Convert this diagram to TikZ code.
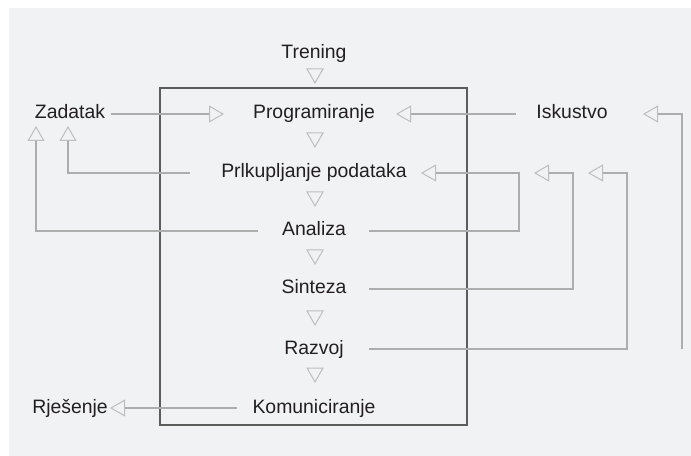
\documentclass[tikz,border=0pt]{standalone}
\usepackage{fontspec}
\setmainfont{Liberation Sans}
\usetikzlibrary{arrows.meta}
\definecolor{bgc}{HTML}{F1F2F4}
\definecolor{txt}{HTML}{231F20}
\definecolor{framec}{HTML}{5C5C5C}
\definecolor{linec}{HTML}{ADADAD}
\definecolor{tipc}{HTML}{BDBDBD}
\tikzset{
  lbl/.style={inner sep=0pt, text height=14bp, text depth=4bp, text=txt,
    font=\fontsize{19.4bp}{23bp}\selectfont},
  conn/.style={draw=linec, line width=1.6bp,
    -{Triangle[open, length=15bp, width=17bp, line width=1bp, color=tipc]}},
  plain/.style={draw=linec, line width=1.6bp},
  downtri/.pic={\draw[tipc, line width=1bp, line join=miter]
      (-8,-7) -- (8,-7) -- (0,7) -- cycle;}
}
\begin{document}
\begin{tikzpicture}[x=1bp, y=-1bp]
\useasboundingbox (0,0) rectangle (691,456);
\fill[bgc] (9,8) rectangle (691,456);
% frame
\draw[framec, line width=1.2bp] (160,88) rectangle (467,425);
% labels
\node[lbl] (trn) at (314,54) {Trening};
\node[lbl] (prog) at (314,114) {Programiranje};
\node[lbl] (zad) at (70,114) {Zadatak};
\node[lbl] (isk) at (572,114) {Iskustvo};
\node[lbl] (prik) at (314,173) {Prlkupljanje podataka};
\node[lbl] (ana) at (314,231) {Analiza};
\node[lbl] (sin) at (314,289) {Sinteza};
\node[lbl] (raz) at (314,349) {Razvoj};
\node[lbl] (kom) at (314,408) {Komuniciranje};
\node[lbl] (rje) at (70,408) {Rješenje};
% down triangles
\foreach \yy in {76,140,199,257,318,375} \pic at (315,\yy) {downtri};
% connectors
\draw[conn] ([xshift=41bp]zad.center) -- ([xshift=-90bp]prog.center);
\draw[conn] ([xshift=-56bp]isk.center) -- ([xshift=82bp]prog.center);
\draw[conn] ([xshift=110bp,yshift=-235bp]isk.center) |- ([xshift=71bp]isk.center);
\draw[conn] ([xshift=-124bp]prik.center) -| ([xshift=-2bp,yshift=-12bp]zad.center);
\draw[conn] ([xshift=-56bp]ana.center) -| ([xshift=-34bp,yshift=-12bp]zad.center);
\draw[conn] ([xshift=55bp]ana.center) -| ([xshift=205bp]prik.center) -- ([xshift=107bp]prik.center);
\draw[conn] ([xshift=55bp]sin.center) -| ([xshift=259bp]prik.center) -- ([xshift=220bp]prik.center);
\draw[conn] ([xshift=55bp]raz.center) -| ([xshift=313bp]prik.center) -- ([xshift=274bp]prik.center);
\draw[conn] ([xshift=-77bp]kom.center) -- ([xshift=40bp]rje.center);
\end{tikzpicture}
\end{document}
